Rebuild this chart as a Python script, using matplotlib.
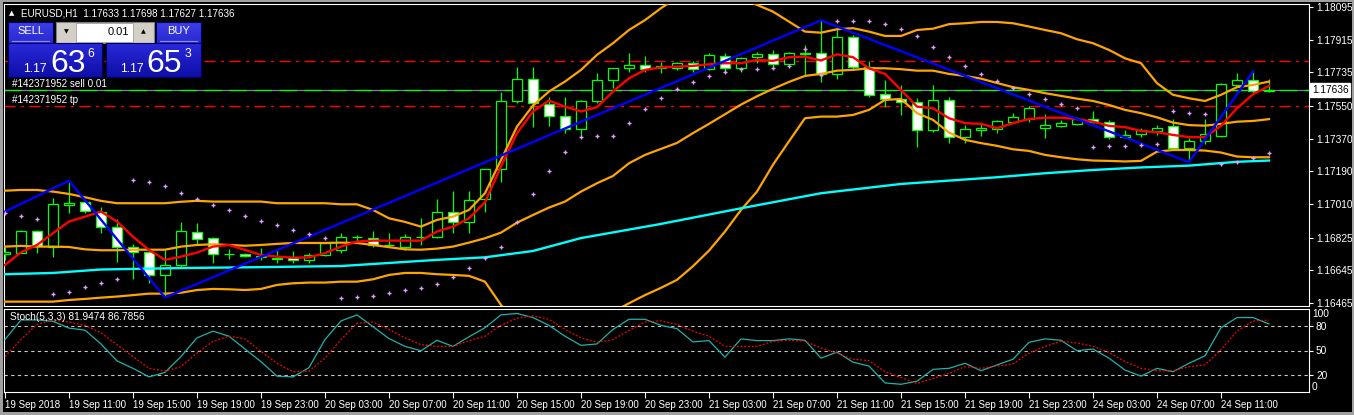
"""EURUSD H1 chart in the MetaTrader 4 look.

Candles, Bollinger bands, two moving averages, ZigZag, Parabolic SAR,
the one-click trading panel and a Stochastic sub-window below.
"""
import matplotlib
matplotlib.use("Agg")
import matplotlib.pyplot as plt
import numpy as np
from matplotlib.patches import Rectangle

plt.rcParams["font.family"] = ["Liberation Sans", "DejaVu Sans"]

# ---- values: EURUSD H1, 19 Sep 07:00 .. 24 Sep 14:00
opens = [1.16733, 1.16742, 1.16860, 1.16775, 1.17006, 1.17021, 1.16966, 1.16885, 1.16772, 1.16744,
         1.16617, 1.16672, 1.16854, 1.16823, 1.16733, 1.16735, 1.16717, 1.16706, 1.16717, 1.16702,
         1.16729, 1.16757, 1.16827, 1.16824, 1.16783, 1.16775, 1.16828, 1.16830, 1.16964, 1.16909,
         1.17036, 1.17201, 1.17576, 1.17697, 1.17561, 1.17493, 1.17421, 1.17576, 1.17691, 1.17757,
         1.17774, 1.17757, 1.17757, 1.17785, 1.17752, 1.17827, 1.17757, 1.17818, 1.17834, 1.17779,
         1.17838, 1.17840, 1.17726, 1.17928, 1.17766, 1.17614, 1.17588, 1.17570, 1.17418, 1.17583,
         1.17381, 1.17416, 1.17421, 1.17463, 1.17480, 1.17430, 1.17441, 1.17452, 1.17478, 1.17463,
         1.17381, 1.17394, 1.17414, 1.17438, 1.17317, 1.17355, 1.17386, 1.17667, 1.17691, 1.17633]
highs = [1.16775, 1.16867, 1.16864, 1.17041, 1.17138, 1.17027, 1.16992, 1.16929, 1.16790, 1.16762,
         1.16757, 1.16913, 1.16904, 1.16830, 1.16761, 1.16740, 1.16766, 1.16757, 1.16753, 1.16739,
         1.16801, 1.16849, 1.16839, 1.16861, 1.16849, 1.16845, 1.16931, 1.17036, 1.17080, 1.17080,
         1.17203, 1.17629, 1.17763, 1.17763, 1.17598, 1.17601, 1.17583, 1.17730, 1.17759, 1.17840,
         1.17825, 1.17792, 1.17794, 1.17798, 1.17840, 1.17840, 1.17821, 1.17849, 1.17858, 1.17849,
         1.17886, 1.18021, 1.17978, 1.17941, 1.17798, 1.17693, 1.17665, 1.17592, 1.17665, 1.17601,
         1.17445, 1.17458, 1.17473, 1.17510, 1.17550, 1.17504, 1.17473, 1.17491, 1.17522, 1.17473,
         1.17418, 1.17427, 1.17445, 1.17477, 1.17372, 1.17478, 1.17678, 1.17732, 1.17739, 1.17698]
lows = [1.16702, 1.16739, 1.16742, 1.16720, 1.16962, 1.16961, 1.16849, 1.16692, 1.16597, 1.16575,
        1.16495, 1.16665, 1.16784, 1.16683, 1.16706, 1.16718, 1.16702, 1.16683, 1.16687, 1.16683,
        1.16724, 1.16739, 1.16802, 1.16775, 1.16773, 1.16757, 1.16784, 1.16821, 1.16849, 1.16852,
        1.16968, 1.17133, 1.17566, 1.17432, 1.17440, 1.17403, 1.17381, 1.17565, 1.17651, 1.17739,
        1.17739, 1.17733, 1.17748, 1.17739, 1.17748, 1.17739, 1.17739, 1.17785, 1.17757, 1.17766,
        1.17720, 1.17684, 1.17698, 1.17748, 1.17601, 1.17543, 1.17500, 1.17322, 1.17408, 1.17344,
        1.17344, 1.17385, 1.17403, 1.17458, 1.17463, 1.17372, 1.17436, 1.17445, 1.17455, 1.17366,
        1.17372, 1.17377, 1.17390, 1.17313, 1.17240, 1.17341, 1.17381, 1.17653, 1.17620, 1.17627]
closes = [1.16744, 1.16860, 1.16779, 1.17008, 1.17014, 1.16973, 1.16885, 1.16772, 1.16744, 1.16617,
          1.16672, 1.16860, 1.16819, 1.16733, 1.16735, 1.16722, 1.16725, 1.16714, 1.16702, 1.16731,
          1.16794, 1.16830, 1.16830, 1.16784, 1.16784, 1.16830, 1.16830, 1.16964, 1.16909, 1.17030,
          1.17201, 1.17577, 1.17697, 1.17565, 1.17493, 1.17421, 1.17577, 1.17691, 1.17757, 1.17774,
          1.17752, 1.17770, 1.17785, 1.17754, 1.17831, 1.17757, 1.17812, 1.17836, 1.17781, 1.17840,
          1.17840, 1.17726, 1.17928, 1.17766, 1.17612, 1.17588, 1.17570, 1.17416, 1.17583, 1.17379,
          1.17421, 1.17429, 1.17466, 1.17488, 1.17537, 1.17445, 1.17455, 1.17477, 1.17462, 1.17381,
          1.17390, 1.17416, 1.17427, 1.17317, 1.17355, 1.17394, 1.17669, 1.17691, 1.17631, 1.17636]

ma_fast = [1.16674, 1.16744, 1.16784, 1.16849, 1.16913, 1.16940, 1.16968, 1.16913, 1.16830, 1.16757,
           1.16702, 1.16720, 1.16742, 1.16775, 1.16784, 1.16757, 1.16729, 1.16720, 1.16714, 1.16716,
           1.16739, 1.16775, 1.16803, 1.16808, 1.16808, 1.16808, 1.16808, 1.16858, 1.16885, 1.16931,
           1.17019, 1.17216, 1.17400, 1.17519, 1.17579, 1.17546, 1.17519, 1.17543, 1.17629, 1.17702,
           1.17748, 1.17762, 1.17766, 1.17770, 1.17779, 1.17785, 1.17785, 1.17803, 1.17798, 1.17818,
           1.17821, 1.17800, 1.17834, 1.17818, 1.17757, 1.17726, 1.17638, 1.17546, 1.17537, 1.17482,
           1.17455, 1.17451, 1.17427, 1.17455, 1.17478, 1.17485, 1.17485, 1.17477, 1.17463, 1.17440,
           1.17433, 1.17412, 1.17405, 1.17390, 1.17378, 1.17378, 1.17440, 1.17537, 1.17614, 1.17660]

ma_slow_bars = [0, 3, 6, 11, 16, 21, 27, 30, 33, 36, 41, 46, 51, 56, 62, 65, 68, 71, 74, 77, 79]
ma_slow = [1.16623, 1.16630, 1.16649, 1.16657, 1.16662, 1.16668, 1.16702, 1.16716, 1.16751, 1.16822,
           1.16900, 1.16986, 1.17069, 1.17120, 1.17157, 1.17179, 1.17197, 1.17211, 1.17221, 1.17242,
           1.17249]

bb_upper = [1.17083, 1.17087, 1.17087, 1.17078, 1.17065, 1.17047, 1.17027, 1.17014, 1.17014, 1.17014,
            1.17014, 1.17022, 1.17027, 1.17023, 1.17023, 1.17023, 1.17023, 1.17014, 1.17014, 1.17014,
            1.17014, 1.17008, 1.17008, 1.16977, 1.16931, 1.16911, 1.16885, 1.16922, 1.16940, 1.16977,
            1.17069, 1.17252, 1.17436, 1.17552, 1.17629, 1.17684, 1.17748, 1.17831, 1.17895, 1.17968,
            1.18022, 1.18088, 1.18145, 1.18178, 1.18189, 1.18178, 1.18145, 1.18106, 1.18069, 1.18014,
            1.17959, 1.17953, 1.17972, 1.17978, 1.17959, 1.17935, 1.17935, 1.17968, 1.17975, 1.18000,
            1.18005, 1.18012, 1.18012, 1.18005, 1.17987, 1.17968, 1.17950, 1.17917, 1.17895, 1.17858,
            1.17812, 1.17785, 1.17675, 1.17611, 1.17592, 1.17577, 1.17611, 1.17653, 1.17665, 1.17684]
bb_middle = [1.16775, 1.16779, 1.16775, 1.16775, 1.16773, 1.16760, 1.16755, 1.16755, 1.16758, 1.16758,
             1.16758, 1.16775, 1.16784, 1.16788, 1.16784, 1.16780, 1.16784, 1.16790, 1.16795, 1.16795,
             1.16795, 1.16797, 1.16795, 1.16784, 1.16772, 1.16760, 1.16758, 1.16764, 1.16775, 1.16797,
             1.16821, 1.16852, 1.16907, 1.16949, 1.16990, 1.17023, 1.17078, 1.17124, 1.17164, 1.17234,
             1.17280, 1.17313, 1.17346, 1.17400, 1.17451, 1.17504, 1.17557, 1.17603, 1.17644, 1.17682,
             1.17715, 1.17726, 1.17744, 1.17748, 1.17757, 1.17757, 1.17752, 1.17744, 1.17744, 1.17726,
             1.17715, 1.17700, 1.17676, 1.17653, 1.17638, 1.17620, 1.17605, 1.17590, 1.17577, 1.17555,
             1.17528, 1.17510, 1.17487, 1.17458, 1.17444, 1.17441, 1.17451, 1.17463, 1.17467, 1.17477]
bb_lower = [1.16472, 1.16472, 1.16472, 1.16472, 1.16481, 1.16487, 1.16494, 1.16500, 1.16508, 1.16516,
            1.16516, 1.16521, 1.16536, 1.16542, 1.16540, 1.16536, 1.16542, 1.16564, 1.16573, 1.16577,
            1.16577, 1.16582, 1.16582, 1.16595, 1.16619, 1.16630, 1.16630, 1.16623, 1.16619, 1.16614,
            1.16582, 1.16454, 1.16344, 1.16234, 1.16179, 1.16179, 1.16234, 1.16316, 1.16415, 1.16463,
            1.16508, 1.16548, 1.16592, 1.16667, 1.16753, 1.16858, 1.16977, 1.17078, 1.17226, 1.17355,
            1.17482, 1.17491, 1.17491, 1.17500, 1.17528, 1.17583, 1.17588, 1.17510, 1.17473, 1.17403,
            1.17363, 1.17345, 1.17330, 1.17311, 1.17302, 1.17280, 1.17267, 1.17256, 1.17249, 1.17247,
            1.17244, 1.17247, 1.17298, 1.17307, 1.17307, 1.17304, 1.17293, 1.17271, 1.17267, 1.17267]

sar = [1.16962, 1.16946, 1.16929, 1.16514, 1.16524, 1.16551, 1.16573, 1.16595, 1.17142, 1.17130,
       1.17108, 1.17069, 1.17036, 1.17003, 1.16977, 1.16942, 1.16915, 1.16893, 1.16865, 1.16843,
       1.16821, 1.16494, 1.16496, 1.16502, 1.16518, 1.16535, 1.16546, 1.16568, 1.16606, 1.16659,
       1.16710, 1.16772, 1.16909, 1.17065, 1.17192, 1.17295, 1.17378, 1.17383, 1.17383, 1.17455,
       1.17532, 1.17592, 1.17642, 1.17680, 1.17713, 1.17735, 1.17752, 1.17752, 1.17757, 1.17767,
       1.17862, 1.17720, 1.18020, 1.18020, 1.18016, 1.18000, 1.17972, 1.17934, 1.17873, 1.17818,
       1.17768, 1.17724, 1.17686, 1.17649, 1.17614, 1.17587, 1.17560, 1.17537, 1.17324, 1.17328,
       1.17328, 1.17334, 1.17339, 1.17521, 1.17513, 1.17504, 1.17232, 1.17240, 1.17262, 1.17289]

zigzag_bars = [0, 4, 10, 51, 74, 78]
zigzag_prices = [1.16968, 1.17138, 1.16495, 1.18021, 1.17240, 1.17739]

stoch_main = [63.2, 86.8, 86.8, 85.2, 77.0, 74.5, 57.9, 37.5, 28.5, 18.2,
              23.6, 42.7, 65.2, 73.3, 67.2, 51.8, 36.6, 19.1, 18.2, 29.3,
              63.2, 85.6, 92.9, 78.7, 64.4, 55.0, 49.7, 62.3, 55.0, 66.5,
              77.5, 92.9, 94.6, 89.7, 80.3, 67.2, 56.2, 57.9, 75.4, 87.6,
              87.6, 80.3, 76.3, 60.3, 61.9, 42.0, 64.0, 61.9, 61.9, 64.0,
              62.3, 40.8, 48.1, 35.9, 31.3, 10.9, 9.3, 13.0, 27.3, 28.5,
              34.6, 25.6, 32.6, 39.5, 59.9, 64.0, 62.3, 49.7, 51.8, 40.8,
              26.4, 19.1, 28.5, 24.4, 34.6, 43.6, 77.5, 89.7, 89.7, 81.9474]
stoch_signal = [42.7, 63.2, 81.5, 86.8, 84.3, 80.3, 71.4, 57.0, 42.7, 28.5,
                25.2, 30.5, 46.9, 61.1, 67.2, 64.0, 48.8, 34.6, 24.4, 25.2,
                40.8, 63.2, 82.7, 84.3, 75.4, 65.2, 57.0, 55.0, 55.0, 61.9,
                67.2, 80.3, 88.9, 91.7, 87.6, 75.4, 65.2, 59.9, 63.2, 74.2,
                84.3, 85.6, 81.5, 73.3, 67.2, 55.0, 55.0, 55.0, 61.1, 62.3,
                61.1, 53.0, 46.9, 39.5, 37.8, 24.4, 17.5, 10.2, 16.3, 22.4,
                30.5, 28.5, 31.3, 33.8, 46.9, 55.0, 61.1, 59.1, 55.0, 47.6,
                36.6, 28.5, 25.6, 25.6, 30.5, 32.6, 50.9, 73.3, 85.6, 86.7856]

time_labels = ["19 Sep 2018", "19 Sep 11:00", "19 Sep 15:00", "19 Sep 19:00", "19 Sep 23:00",
               "20 Sep 03:00", "20 Sep 07:00", "20 Sep 11:00", "20 Sep 15:00", "20 Sep 19:00",
               "20 Sep 23:00", "21 Sep 03:00", "21 Sep 07:00", "21 Sep 11:00", "21 Sep 15:00",
               "21 Sep 19:00", "21 Sep 23:00", "24 Sep 03:00", "24 Sep 07:00", "24 Sep 11:00"]
price_ticks = [1.18095, 1.17915, 1.17735, 1.17550, 1.17370, 1.17190,
               1.17010, 1.16825, 1.16645, 1.16465]
stoch_levels = [20, 50, 80]

bid = 1.17636
stop_loss = 1.17798
take_profit = 1.17548
ohlc_caption = "EURUSD,H1  1.17633 1.17698 1.17627 1.17636"
stoch_caption = "Stoch(5,3,3) 81.9474 86.7856"
order_label = "#142371952 sell 0.01"
tp_label = "#142371952 tp"
lot_size = "0.01"
sell_quote = ("1.17", "63", "6")
buy_quote = ("1.17", "65", "3")

LIME = "#00ff00"
W, H = 1354, 415

fig = plt.figure(figsize=(W / 100, H / 100), dpi=100, facecolor="black")


def pixel_axes(x0, y0, x1, y1):
    a = fig.add_axes([x0 / W, 1 - y1 / H, (x1 - x0) / W, (y1 - y0) / H])
    a.set_facecolor("black")
    for s in a.spines.values():
        s.set_color("white")
        s.set_linewidth(0.8)
    return a


x = np.arange(len(closes))
o, h, l, c = map(np.array, (opens, highs, lows, closes))

# ---- main window
ax = pixel_axes(4, 4, 1309, 306)
ax.set_xlim(-0.06, 81.5)
ax.set_ylim(1.16448, 1.18111)
ax.set_xticks([])
ax.yaxis.tick_right()
ax.set_yticks(price_ticks)
ax.set_yticklabels([f"{p:.5f}" for p in price_ticks])
ax.tick_params(axis="y", colors="white", length=3, width=0.8, labelsize=7.3, pad=2)

ax.axhline(stop_loss, color="red", lw=1.0, dashes=(8, 4, 2, 4), zorder=1)
ax.axhline(take_profit, color="red", lw=1.0, dashes=(8, 4, 2, 4), zorder=1)
ax.axhline(bid, color="#778899", lw=0.9, zorder=1)
ax.axhline(bid, color=LIME, lw=0.9, dashes=(14, 6), zorder=1)

ax.vlines(x, l, h, color=LIME, lw=0.9, zorder=3)
ax.bar(x, np.abs(c - o), width=0.62, bottom=np.minimum(o, c),
       color=np.where(c >= o, "black", "white"), edgecolor=LIME, linewidth=0.9, zorder=4)

for band in (bb_upper, bb_middle, bb_lower):
    ax.plot(x, band, color="#ffa500", lw=1.6, zorder=5)
ax.plot(ma_slow_bars, ma_slow, color="#00ffff", lw=1.7, zorder=5)
ax.plot(x, ma_fast, color="red", lw=1.7, zorder=6)
ax.plot(zigzag_bars, zigzag_prices, color="#0000ff", lw=1.7, zorder=7)
ax.plot(x, sar, ls="none", marker="+", ms=3.2, mew=1.0, color="#e39cff", zorder=8)

ax.text(1.0 + 3 / 1305, bid, f"{bid:.5f}", transform=ax.get_yaxis_transform(),
        ha="left", va="center", color="black", fontsize=7.3, zorder=10, clip_on=False,
        bbox=dict(boxstyle="square,pad=0.18", fc="white", ec="white"))

# ---- stochastic window
st = pixel_axes(4, 309, 1309, 392)
st.set_xlim(ax.get_xlim())
st.set_ylim(0, 100)
for lv in stoch_levels:
    st.axhline(lv, color="#c8c8c8", lw=0.8, dashes=(3, 3), zorder=1)
st.plot(x, stoch_main, color="#20b2aa", lw=0.9, zorder=3)
st.plot(x, stoch_signal, color="red", lw=0.9, dashes=(1.5, 1.5), zorder=4)
st.yaxis.tick_right()
st.set_yticks(stoch_levels)
st.tick_params(axis="y", colors="white", length=3, width=0.8, labelsize=7.3, pad=2)
st.text(1.0 + 3 / 1305, 100, "100", transform=st.get_yaxis_transform(), color="white",
        fontsize=7.3, ha="left", va="top", clip_on=False)
st.text(1.0 + 3 / 1305, 0, "0", transform=st.get_yaxis_transform(), color="white",
        fontsize=7.3, ha="left", va="bottom", clip_on=False)
st.set_xticks(range(0, len(x), 4))
st.set_xticklabels(time_labels, ha="left")
st.tick_params(axis="x", colors="white", length=4, width=0.8, labelsize=7, pad=1.5)

# ---- overlay in pixel coordinates: window frame, captions and trade panel
ov = fig.add_axes([0, 0, 1, 1])
ov.set_xlim(0, W)
ov.set_ylim(H, 0)
ov.axis("off")
ov.patch.set_alpha(0)
ov.set_zorder(20)

for rect in ((0, 0, W, 2.5), (0, 0, 2.5, H), (W - 2, 0, 2, H), (0, H - 3, W, 3)):
    ov.add_patch(Rectangle(rect[:2], rect[2], rect[3], color="#a0a0a0", lw=0))

ov.text(9.5, 317, stoch_caption, color="white", fontsize=7.3, va="center")
ov.text(12, 13.3, "\u25b2", color="white", fontsize=5, ha="center", va="center",
        family=["DejaVu Sans"])
ov.text(20.7, 13.3, ohlc_caption, color="white", fontsize=7.1, va="center")
ov.text(11.7, 84, order_label, color="white", fontsize=7.1, va="center")
ov.text(11.7, 100, tp_label, color="white", fontsize=7.1, va="center")


def gradient_box(x0, y0, x1, y1, top, bottom, steps=20):
    t = np.array(matplotlib.colors.to_rgb(top))
    b = np.array(matplotlib.colors.to_rgb(bottom))
    hgt = (y1 - y0) / steps
    for i in range(steps):
        f = i / (steps - 1)
        ov.add_patch(Rectangle((x0, y0 + i * hgt), x1 - x0, hgt + 0.3,
                               color=tuple(t * (1 - f) + b * f), lw=0))
    ov.add_patch(Rectangle((x0, y0), x1 - x0, y1 - y0, fill=False, ec="#00006a", lw=0.8))


# buttons
for x0, x1, label in ((8, 53, "SELL"), (156, 201, "BUY")):
    gradient_box(x0, 22, x1, 42.7, "#3e3ee6", "#2a2ad2")
    ov.text((x0 + x1) / 2, 31.5, label, color="white", fontsize=8, ha="center", va="center")
    ov.plot([x0 + 4, x1 - 4], [41.5, 41.5], color="#8c8cff", lw=0.8)

# lot selector
ov.add_patch(Rectangle((56, 22), 98, 20.7, fc="#d4d0c8", ec="#808080", lw=0.8))
ov.add_patch(Rectangle((76, 23), 57, 18.7, fc="white", ec="#a0a0a0", lw=0.6))
ov.text(66, 32, "\u25bc", fontsize=4.5, ha="center", va="center", color="black",
        family=["DejaVu Sans"])
ov.text(143.5, 32, "\u25b2", fontsize=4.5, ha="center", va="center", color="black",
        family=["DejaVu Sans"])
ov.text(129, 32, lot_size, fontsize=8, ha="right", va="center", color="black")

# quote boxes
for x0, x1, quote, xs in ((8, 101.7, sell_quote, (23, 51, 87)),
                         (106, 201, buy_quote, (120.5, 147, 185))):
    gradient_box(x0, 43.3, x1, 77.3, "#2828d8", "#0e0ea6")
    ov.text(xs[0], 72.5, quote[0], color="white", fontsize=8.8, ha="left", va="baseline")
    ov.text(xs[1] - 1, 72.5, quote[1], color="white", fontsize=23, ha="left", va="baseline")
    ov.text(xs[2], 56.8, quote[2], color="white", fontsize=8.8, ha="left", va="baseline")

fig.savefig("out.png", dpi=100, facecolor="black")
